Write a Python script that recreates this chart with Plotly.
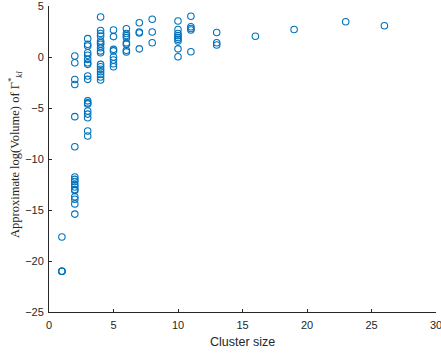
import plotly.graph_objects as go

cluster_sizes = [1, 2, 3, 4, 5, 6, 7, 8, 10, 11, 13, 16, 19, 23, 26]
log_volumes = [
    [-17.65, -21.0, -21.0, -21.0],
    [0.1, -0.56, -2.2, -2.7, -5.85, -8.8, -11.76, -12.0, -12.2, -12.5, -12.75, -13.0, -13.1, -13.7, -13.95, -14.4, -15.4],
    [1.8, 1.25, 1.08, 0.42, 0.17, -0.23, -0.56, -0.72, -1.86, -2.19, -4.3, -4.5, -4.6, -5.3, -5.6, -5.95, -7.25, -7.75],
    [3.92, 2.6, 2.3, 2.06, 1.57, 1.4, 1.25, 0.9, 0.6, 0.42, -0.72, -0.95, -1.2, -1.44, -1.7, -1.96, -2.25],
    [2.65, 2.0, 0.75, 0.6, 0.0, -0.3, -0.66, -0.95],
    [2.77, 2.3, 2.1, 1.9, 1.4, 1.25, 0.66, 0.5],
    [3.36, 2.45, 2.35, 0.8],
    [3.7, 2.45, 1.4],
    [3.53, 2.7, 2.3, 2.1, 1.9, 1.73, 1.57, 0.8, 0.03],
    [4.0, 2.97, 2.8, 2.65, 0.52],
    [2.4, 1.4, 1.18],
    [2.03],
    [2.7],
    [3.46],
    [3.07],
]
x_ticks = [0, 5, 10, 15, 20, 25, 30]
y_ticks = [-25, -20, -15, -10, -5, 0, 5]

xs, ys = [], []
for c, vals in zip(cluster_sizes, log_volumes):
    for v in vals:
        xs.append(c)
        ys.append(v)

fig = go.Figure(go.Scatter(
    x=xs, y=ys, mode="markers",
    marker=dict(symbol="circle-open", size=6.5, color="#0072BD", line=dict(width=1.1, color="#0072BD")),
    showlegend=False, cliponaxis=False,
))

axis_common = dict(
    showgrid=False, zeroline=False, showline=True, linecolor="#262626", linewidth=1,
    ticks="inside", ticklen=3, tickcolor="#262626", tickwidth=1,
    tickfont=dict(family="Liberation Sans, Arial", size=11, color="#262626"),
    ticklabeloverflow="allow",
)
fig.update_xaxes(range=[0, 30], tickvals=x_ticks, ticklabelstandoff=3, **axis_common)
fig.update_yaxes(range=[-25, 5], tickvals=y_ticks, ticklabelstandoff=2, **axis_common)

fig.add_annotation(
    text="Cluster size",
    xref="paper", yref="paper", x=0.5, y=0, yshift=-30, showarrow=False,
    xanchor="center", yanchor="middle",
    font=dict(family="Liberation Sans, Arial", size=12.5, color="#262626"),
)
fig.add_annotation(
    text="Approximate log(Volume) of Γ<sup>*</sup><sub><i>kl</i></sub>",
    xref="paper", yref="paper", x=0, xshift=-34, y=0.5, yshift=4, textangle=-90, showarrow=False,
    xanchor="center", yanchor="middle",
    font=dict(family="Liberation Serif, DejaVu Serif", size=12.5, color="#262626"),
)

fig.update_layout(
    width=441, height=353,
    margin=dict(l=49, r=5, t=6, b=41, autoexpand=False),
    plot_bgcolor="white", paper_bgcolor="white",
)
fig.write_html("out.html")
